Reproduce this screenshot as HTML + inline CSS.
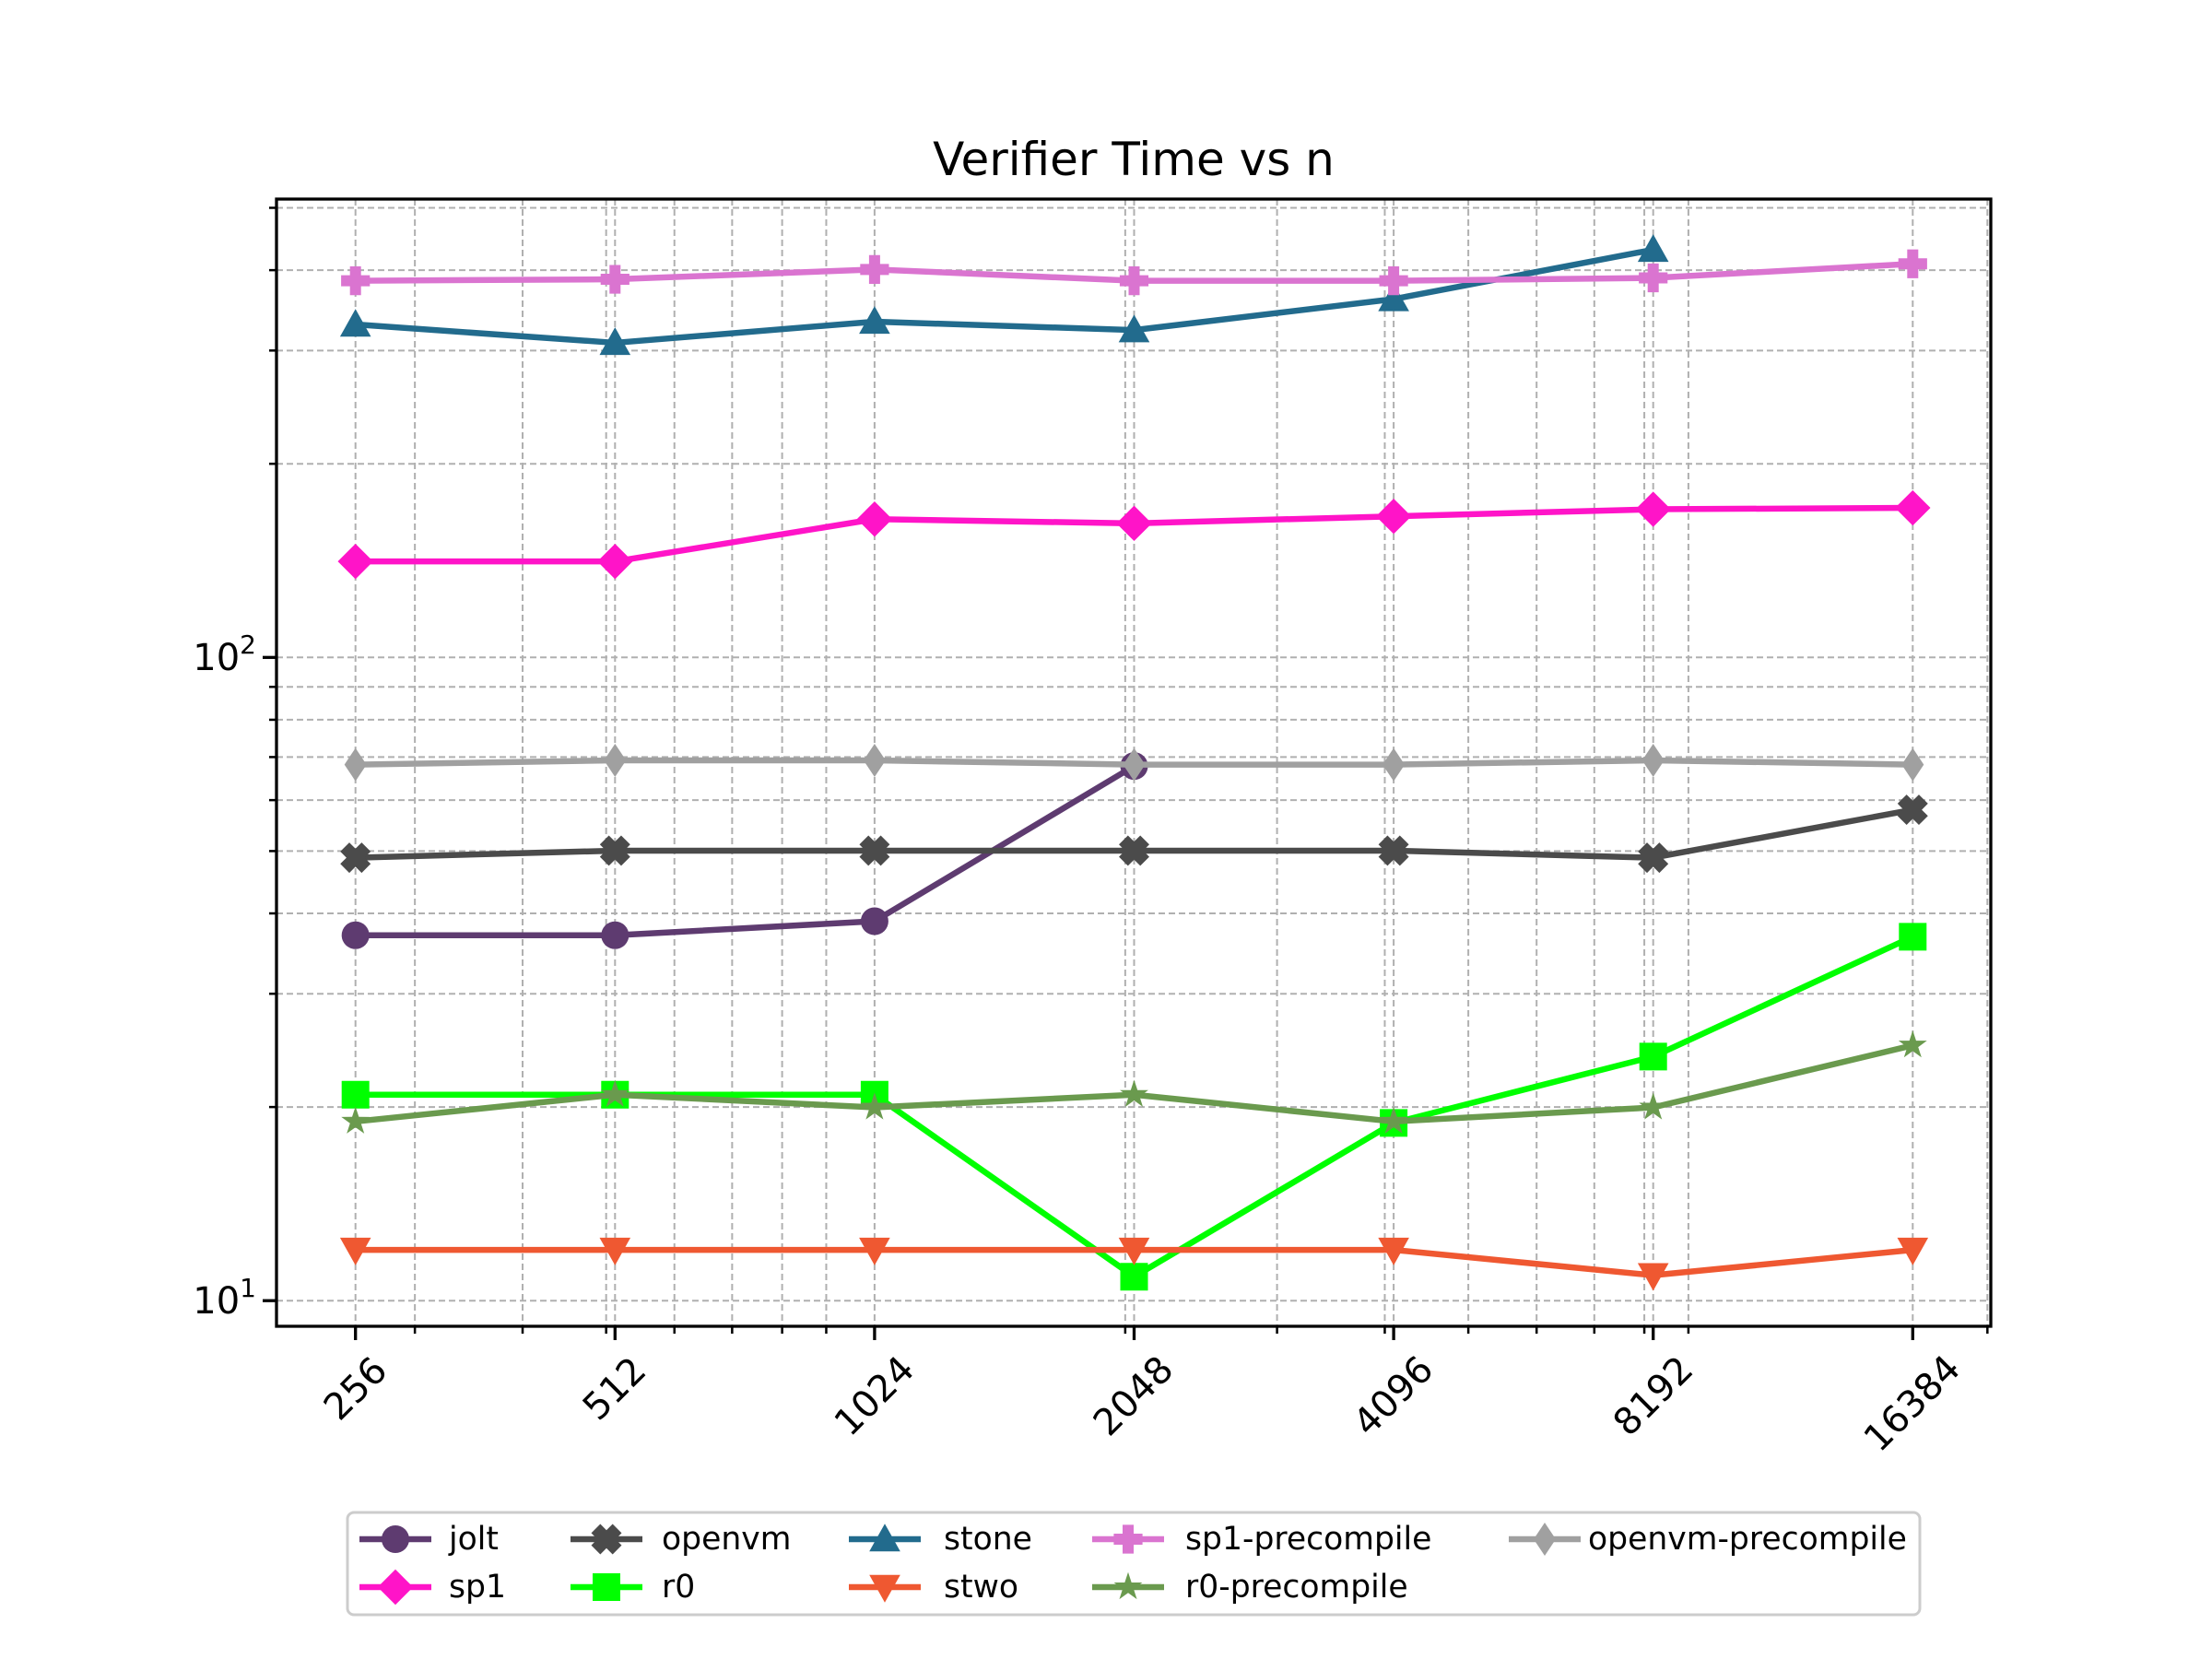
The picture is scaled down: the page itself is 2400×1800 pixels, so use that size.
<!DOCTYPE html>
<html><head><meta charset="utf-8"><style>
html,body{margin:0;padding:0;background:#fff;}
svg{display:block;}
text{font-family:"DejaVu Sans","Liberation Sans",sans-serif;fill:#000;}
</style></head><body>
<svg id="s" width="2400" height="1800" viewBox="0 0 2400 1800" xmlns="http://www.w3.org/2000/svg">
<rect width="2400" height="1800" fill="#fff"/>
<g id="grid"></g>
<g id="plot"></g>
<rect x="300" y="216" width="1860" height="1223" fill="none" stroke="#000" stroke-width="3.3"/>
<g id="ticks"></g>
<text x="1230" y="190" font-size="50" text-anchor="middle">Verifier Time vs n</text>
<text x="278" y="727" font-size="40" text-anchor="end">10<tspan dy="-18" font-size="28">2</tspan></text>
<text x="278" y="1425" font-size="40" text-anchor="end">10<tspan dy="-18" font-size="28">1</tspan></text>
<g font-size="40" text-anchor="middle" dominant-baseline="central">
<text transform="translate(386,1507) rotate(-45)">256</text>
<text transform="translate(667,1507) rotate(-45)">512</text>
<text transform="translate(949,1515) rotate(-45)">1024</text>
<text transform="translate(1230,1515) rotate(-45)">2048</text>
<text transform="translate(1512,1515) rotate(-45)">4096</text>
<text transform="translate(1794,1515) rotate(-45)">8192</text>
<text transform="translate(2075,1523) rotate(-45)">16384</text>
</g>
<rect x="377" y="1641" width="1706" height="111" rx="7" fill="#fff" stroke="#ccc" stroke-width="3"/>
<g id="leg"></g>
<g font-size="34.6" dominant-baseline="central">
<text x="487" y="1670">jolt</text>
<text x="487" y="1722">sp1</text>
<text x="718" y="1670">openvm</text>
<text x="718" y="1722">r0</text>
<text x="1024" y="1670">stone</text>
<text x="1024" y="1722">stwo</text>
<text x="1286" y="1670">sp1-precompile</text>
<text x="1286" y="1722">r0-precompile</text>
<text x="1723" y="1670">openvm-precompile</text>
</g>
</svg>
<script>
const NS="http://www.w3.org/2000/svg";
function el(p,t,a){const e=document.createElementNS(NS,t);for(const k in a)e.setAttribute(k,a[k]);p.appendChild(e);return e;}
const X=v=>385.7+281.6*Math.log2(v/256);
const Y=v=>713.3-697.9*Math.log10(v/100);
const grid=document.getElementById('grid'),ticks=document.getElementById('ticks');
const L=300,R=2160,T=216,B=1439;
const g={stroke:'#b0b0b0','stroke-width':2,'stroke-dasharray':'7,4',fill:'none'};
const majX=[256,512,1024,2048,4096,8192,16384];
const minX=[300,400,500,600,700,800,900,2000,3000,4000,5000,6000,7000,8000,9000,20000];
majX.concat(minX).forEach(v=>{const x=X(v);if(x<L||x>R)return;el(grid,'line',Object.assign({x1:x,x2:x,y1:T,y2:B},g));});
const majY=[10,100],minY=[20,30,40,50,60,70,80,90,200,300,400,500];
majY.concat(minY).forEach(v=>{const y=Y(v);if(y<T||y>B)return;el(grid,'line',Object.assign({x1:L,x2:R,y1:y,y2:y},g));});
majX.forEach(v=>{const x=X(v);el(ticks,'line',{x1:x,x2:x,y1:B,y2:B+15,stroke:'#000','stroke-width':3.3});});
minX.forEach(v=>{const x=X(v);if(x<L||x>R)return;el(ticks,'line',{x1:x,x2:x,y1:B,y2:B+8,stroke:'#000','stroke-width':2.5});});
majY.forEach(v=>{const y=Y(v);el(ticks,'line',{x1:L,x2:L-15,y1:y,y2:y,stroke:'#000','stroke-width':3.3});});
minY.forEach(v=>{const y=Y(v);if(y<T||y>B)return;el(ticks,'line',{x1:L,x2:L-8,y1:y,y2:y,stroke:'#000','stroke-width':2.5});});
function poly(pts){return pts.map(p=>p.join(',')).join(' ');}
const F=1.2;
function marker(p,m,x,y,c){
 const P=a=>el(p,'polygon',{points:poly(a.map(q=>[x+q[0]*F,y+q[1]*F])),fill:c});
 if(m=='o')el(p,'circle',{cx:x,cy:y,r:12.5*F,fill:c});
 else if(m=='D')P([[0,-16],[16,0],[0,16],[-16,0]]);
 else if(m=='s')P([[-12.5,-12.5],[12.5,-12.5],[12.5,12.5],[-12.5,12.5]]);
 else if(m=='^')P([[0,-14],[14,11],[-14,11]]);
 else if(m=='v')P([[0,14],[14,-11],[-14,-11]]);
 else if(m=='d')P([[0,-15],[10,0],[0,15],[-10,0]]);
 else if(m=='P'){const a=13,b=5;P([[-b,-a],[b,-a],[b,-b],[a,-b],[a,b],[b,b],[b,a],[-b,a],[-b,b],[-a,b],[-a,-b],[-b,-b]]);}
 else if(m=='X'){const a=13,b=5.5;const base=[[-b,-a],[b,-a],[b,-b],[a,-b],[a,b],[b,b],[b,a],[-b,a],[-b,b],[-a,b],[-a,-b],[-b,-b]];const c45=Math.SQRT1_2;P(base.map(q=>[(q[0]-q[1])*c45*1.05,(q[0]+q[1])*c45*1.05]));}
 else if(m=='*'){const pts=[];for(let i=0;i<10;i++){const r=i%2?5.2:13.5,a=-Math.PI/2+i*Math.PI/5;pts.push([r*Math.cos(a),r*Math.sin(a)]);}P(pts);}
}
const k=1.5306;
const S=[
 ['#5e3b70','o',[663,663,653,543]],
 ['#ff14c8','D',[398,398,368,371,366,361,360]],
 ['#4b4b4b','X',[608,603,603,603,603,608,574]],
 ['#00ff00','s',[776,776,776,905,796,749,664]],
 ['#226b8d','^',[230,243,228,234,212,177]],
 ['#ef5831','v',[886,886,886,886,886,904,886]],
 ['#da74d0','P',[199,198,191,199,199,197,187]],
 ['#6a9a4e','*',[795,776,785,776,795,785,741]],
 ['#a0a0a0','d',[542,539,539,542,542,539,542]]
];
const plot=document.getElementById('plot');
S.forEach(s=>{const pts=s[2].map((d,i)=>[X(majX[i]),d*k]);
 el(plot,'polyline',{points:poly(pts),fill:'none',stroke:s[0],'stroke-width':6.5,'stroke-linejoin':'round'});
 pts.forEach(p=>marker(plot,s[1],p[0],p[1],s[0]));});
const leg=document.getElementById('leg');
const LX=[429,658,960,1224,1676],LY=[1670,1722];
S.forEach((s,i)=>{const cx=LX[Math.floor(i/2)],cy=LY[i%2];
 el(leg,'line',{x1:cx-39,x2:cx+39,y1:cy,y2:cy,stroke:s[0],'stroke-width':6.5});marker(leg,s[1],cx,cy,s[0]);});
</script>
</body></html>
